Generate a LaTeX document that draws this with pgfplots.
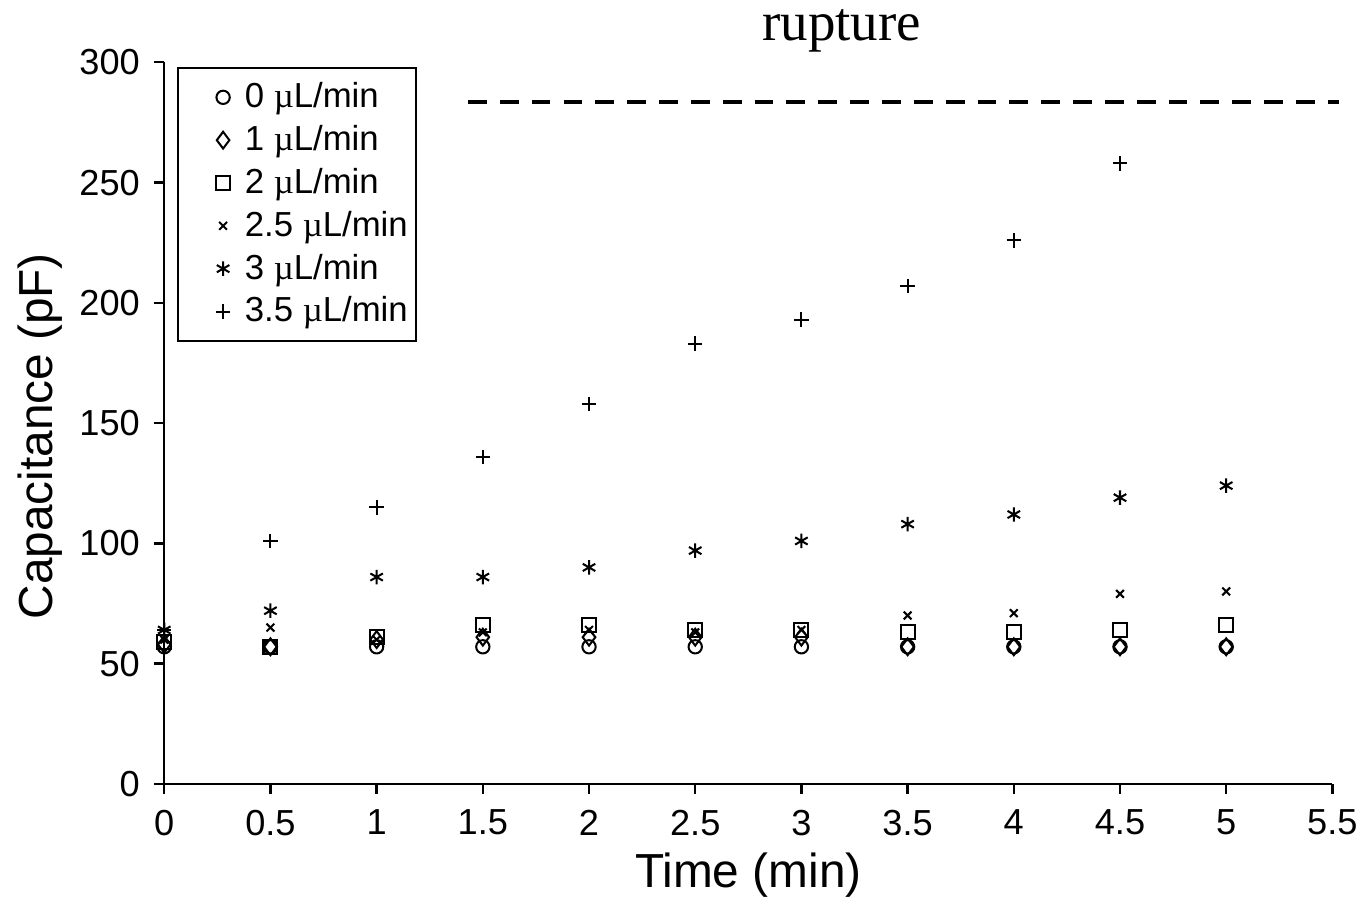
\documentclass[border=0pt]{standalone}
\usepackage{fontspec}
\setmainfont{Liberation Sans}
\newfontfamily\serif{Liberation Serif}
\usepackage{pgfplots}
\pgfplotsset{compat=1.18}
\usepackage{pgfplotstable}

% time (min) vs capacitance (pF) for each flow rate
\pgfplotstableread{
t    c0   c1   c2   c25  c3    c35
0    57   58   59   60   64    64
0.5  57   57   57   65   72    101
1    57   60   61   60   86    115
1.5  57   61   66   63   86    136
2    57   61   66   64   90    158
2.5  57   61   64   63   97    183
3    57   61   64   64   101   193
3.5  57   57   63   70   108   207
4    57   57   63   71   112   226
4.5  57   57   64   79   119   258
5    57   57   66   80   124   nan
}\data

\newcommand{\ul}{{\serif µ}L/min}

\begin{document}
\begin{tikzpicture}
\begin{axis}[
  scale only axis,
  width=14.18cm, height=8.76cm,
  xmin=0, xmax=5.5, ymin=0, ymax=300,
  xtick={0,0.5,...,5.5},
  ytick={0,50,...,300},
  axis lines*=left,
  axis line style={line width=0.8pt},
  tick align=outside,
  major tick length=0.12cm,
  tick style={line width=0.8pt, black},
  /pgf/number format/assume math mode=true,
  ticklabel style={font=\fontsize{12.5}{14}\selectfont},
  yticklabel style={xshift=-1.5pt},
  xticklabel style={yshift=-2pt, inner xsep=0.5pt},
  xlabel={Time (min)},
  ylabel={Capacitance (pF)},
  label style={font=\fontsize{16.5}{19}\selectfont},
  xlabel style={yshift=1pt},
  ylabel style={yshift=-1pt, xshift=-0.16cm},
  clip=false,
  only marks,
  every axis plot/.append style={black, line width=0.7pt},
  legend image code/.code={%
    \path (0cm,0cm) (0.5cm,0cm);
    \draw[mark repeat=2, mark phase=2, #1] plot coordinates {(0.3cm,0cm) (0.5cm,0cm) (0.7cm,0cm)};},
  legend style={at={(axis cs:0.06,298)}, anchor=north west,
    font=\fontsize{12}{14}\selectfont, draw=black, line width=0.7pt,
    row sep=0.6pt, column sep=3pt, inner xsep=1pt, inner ysep=3pt},
  legend cell align=left,
]
\addplot[mark=o, mark size=2.3pt] table[x=t,y=c0] {\data};
\addlegendentry{0 \ul}
\addplot[mark=diamond, mark size=2.9pt] table[x=t,y=c1] {\data};
\addlegendentry{1 \ul}
\addplot[mark=square, mark size=2.4pt] table[x=t,y=c2] {\data};
\addlegendentry{2 \ul}
\addplot[mark=x, mark size=1.9pt] table[x=t,y=c25] {\data};
\addlegendentry{2.5 \ul}
\addplot[mark=asterisk, mark size=2.5pt] table[x=t,y=c3] {\data};
\addlegendentry{3 \ul}
\addplot[mark=+, mark size=2.5pt] table[x=t,y=c35] {\data};
\addlegendentry{3.5 \ul}
\addplot[sharp plot, mark=none, line width=1.4pt, dash pattern=on 6.5pt off 4.5pt, forget plot]
  coordinates {(1.43,283.4) (5.53,283.4)};
\node[font=\serif\fontsize{19}{23}\selectfont, anchor=center] at (axis cs:3.19,313) {rupture};
\end{axis}
\path ([xshift=-0.1cm]current bounding box.west);
\end{tikzpicture}
\end{document}
